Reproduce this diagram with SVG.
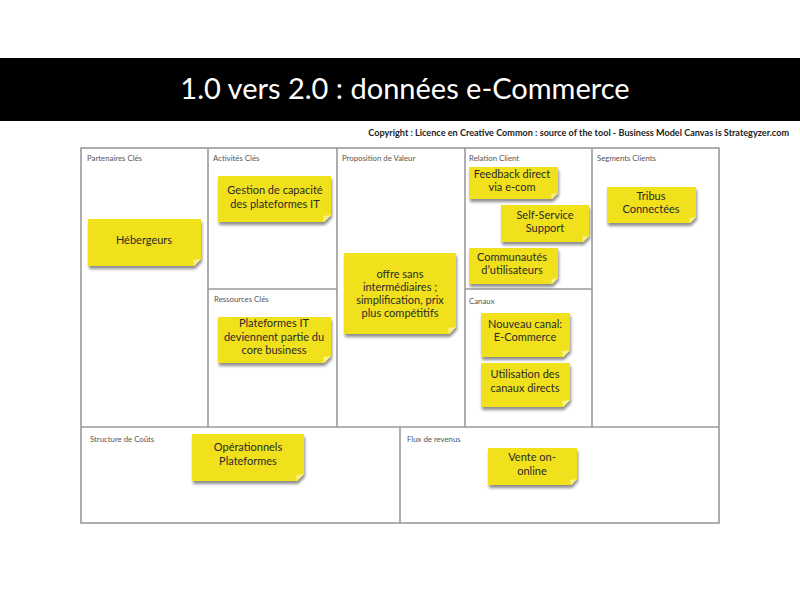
<svg xmlns="http://www.w3.org/2000/svg" width="800" height="600" viewBox="0 0 800 600">
<defs>
<filter id="sh" x="-10%" y="-10%" width="130%" height="140%">
<feGaussianBlur in="SourceAlpha" stdDeviation="1.6"/>
<feOffset dx="1" dy="2.5" result="b"/>
<feComponentTransfer><feFuncA type="linear" slope="0.45"/></feComponentTransfer>
<feMerge><feMergeNode/><feMergeNode in="SourceGraphic"/></feMerge>
</filter>
<style>
.title{font-family:Lato,"Liberation Sans",sans-serif;font-size:29px;fill:#fff;text-anchor:middle}
.copy{font-family:Lato,"Liberation Sans",sans-serif;font-size:9.1px;font-weight:bold;fill:#222;text-anchor:end}
.cell{fill:none;stroke:#9a9a9a;stroke-width:1.6}
.lbl{font-family:Lato,"Liberation Sans",sans-serif;font-size:7.8px;fill:#555}
.note{fill:#f1e11c;filter:url(#sh)}
.fold{fill:#f7ef8a}
.nt{font-family:Lato,"Liberation Sans",sans-serif;font-size:11px;fill:#2a2a2a;text-anchor:middle}
</style>
</defs>
<rect width="800" height="600" fill="#fff"/>
<rect x="0" y="58" width="800" height="63" fill="#000"/>
<text class="title" x="405" y="99">1.0 vers 2.0 : données e-Commerce</text>
<text class="copy" x="789" y="136">Copyright : Licence en Creative Common : source of the tool - Business Model Canvas is Strategyzer.com</text>

<g id="canvas">
<rect x="81" y="148" width="638" height="375" fill="#f6f6f6" class="cell"/>
<line class="cell" x1="208" y1="148" x2="208" y2="427"/>
<line class="cell" x1="337" y1="148" x2="337" y2="427"/>
<line class="cell" x1="465" y1="148" x2="465" y2="427"/>
<line class="cell" x1="592" y1="148" x2="592" y2="427"/>
<line class="cell" x1="208" y1="289" x2="337" y2="289"/>
<line class="cell" x1="465" y1="289" x2="592" y2="289"/>
<line class="cell" x1="81" y1="427" x2="719" y2="427"/>
<line class="cell" x1="400" y1="427" x2="400" y2="523"/>
<text class="lbl" x="87" y="161">Partenaires Clés</text>
<text class="lbl" x="213" y="161">Activités Clés</text>
<text class="lbl" x="342" y="161">Proposition de Valeur</text>
<text class="lbl" x="469" y="161">Relation Client</text>
<text class="lbl" x="597" y="161">Segments Clients</text>
<text class="lbl" x="214" y="302">Ressources Clés</text>
<text class="lbl" x="469" y="304">Canaux</text>
<text class="lbl" x="90" y="442">Structure de Coûts</text>
<text class="lbl" x="407" y="442">Flux de revenus</text>
</g>

<g id="connectors"/>

<g id="n-hebergeurs">
<path class="note" d="M88 219H201V259L194 266H88Z"/><path class="fold" d="M201 259L194 266L193 260Z"/>
<text class="nt" x="144" y="244">Hébergeurs</text>
</g>
<g id="n-gestion">
<path class="note" d="M218 176H331V215L324 222H218Z"/><path class="fold" d="M331 215L324 222L323 216Z"/>
<text class="nt" x="275" y="194">Gestion de capacité</text>
<text class="nt" x="275" y="208">des plateformes IT</text>
</g>
<g id="n-offre">
<path class="note" d="M344 253H456V327L449 334H344Z"/><path class="fold" d="M456 327L449 334L448 328Z"/>
<text class="nt" x="400" y="278">offre sans</text>
<text class="nt" x="400" y="291">intermédiaires ;</text>
<text class="nt" x="400" y="304">simplification, prix</text>
<text class="nt" x="400" y="317">plus compétitifs</text>
</g>
<g id="n-feedback">
<path class="note" d="M469 167H558V193L552 199H469Z"/><path class="fold" d="M558 193L552 199L551 194Z"/>
<text class="nt" x="512" y="178">Feedback direct</text>
<text class="nt" x="512" y="191">via e-com</text>
</g>
<g id="n-selfservice">
<path class="note" d="M501 205H589V236L583 242H501Z"/><path class="fold" d="M589 236L583 242L582 237Z"/>
<text class="nt" x="545" y="219">Self-Service</text>
<text class="nt" x="545" y="232">Support</text>
</g>
<g id="n-communautes">
<path class="note" d="M469 248H558V278L552 284H469Z"/><path class="fold" d="M558 278L552 284L551 279Z"/>
<text class="nt" x="512" y="261">Communautés</text>
<text class="nt" x="512" y="274">d’utilisateurs</text>
</g>
<g id="n-tribus">
<path class="note" d="M607 187H696V217L690 223H607Z"/><path class="fold" d="M696 217L690 223L689 218Z"/>
<text class="nt" x="651" y="200">Tribus</text>
<text class="nt" x="651" y="213">Connectées</text>
</g>
<g id="n-plateformes">
<path class="note" d="M218 317H331V356L324 363H218Z"/><path class="fold" d="M331 356L324 363L323 357Z"/>
<text class="nt" x="274" y="327">Plateformes IT</text>
<text class="nt" x="274" y="341">deviennent partie du</text>
<text class="nt" x="274" y="354">core business</text>
</g>
<g id="n-nouveau">
<path class="note" d="M481 313H570V350L563 357H481Z"/><path class="fold" d="M570 350L563 357L562 351Z"/>
<text class="nt" x="525" y="328">Nouveau canal:</text>
<text class="nt" x="525" y="341">E-Commerce</text>
</g>
<g id="n-utilisation">
<path class="note" d="M481 363H570V400L563 407H481Z"/><path class="fold" d="M570 400L563 407L562 401Z"/>
<text class="nt" x="525" y="378">Utilisation des</text>
<text class="nt" x="525" y="392">canaux directs</text>
</g>
<g id="n-operationnels">
<path class="note" d="M192 434H304V474L297 481H192Z"/><path class="fold" d="M304 474L297 481L296 475Z"/>
<text class="nt" x="248" y="451">Opérationnels</text>
<text class="nt" x="248" y="465">Plateformes</text>
</g>
<g id="n-vente">
<path class="note" d="M488 448H577V479L571 485H488Z"/><path class="fold" d="M577 479L571 485L570 480Z"/>
<text class="nt" x="532" y="461">Vente on-</text>
<text class="nt" x="532" y="475">online</text>
</g>
</svg>
